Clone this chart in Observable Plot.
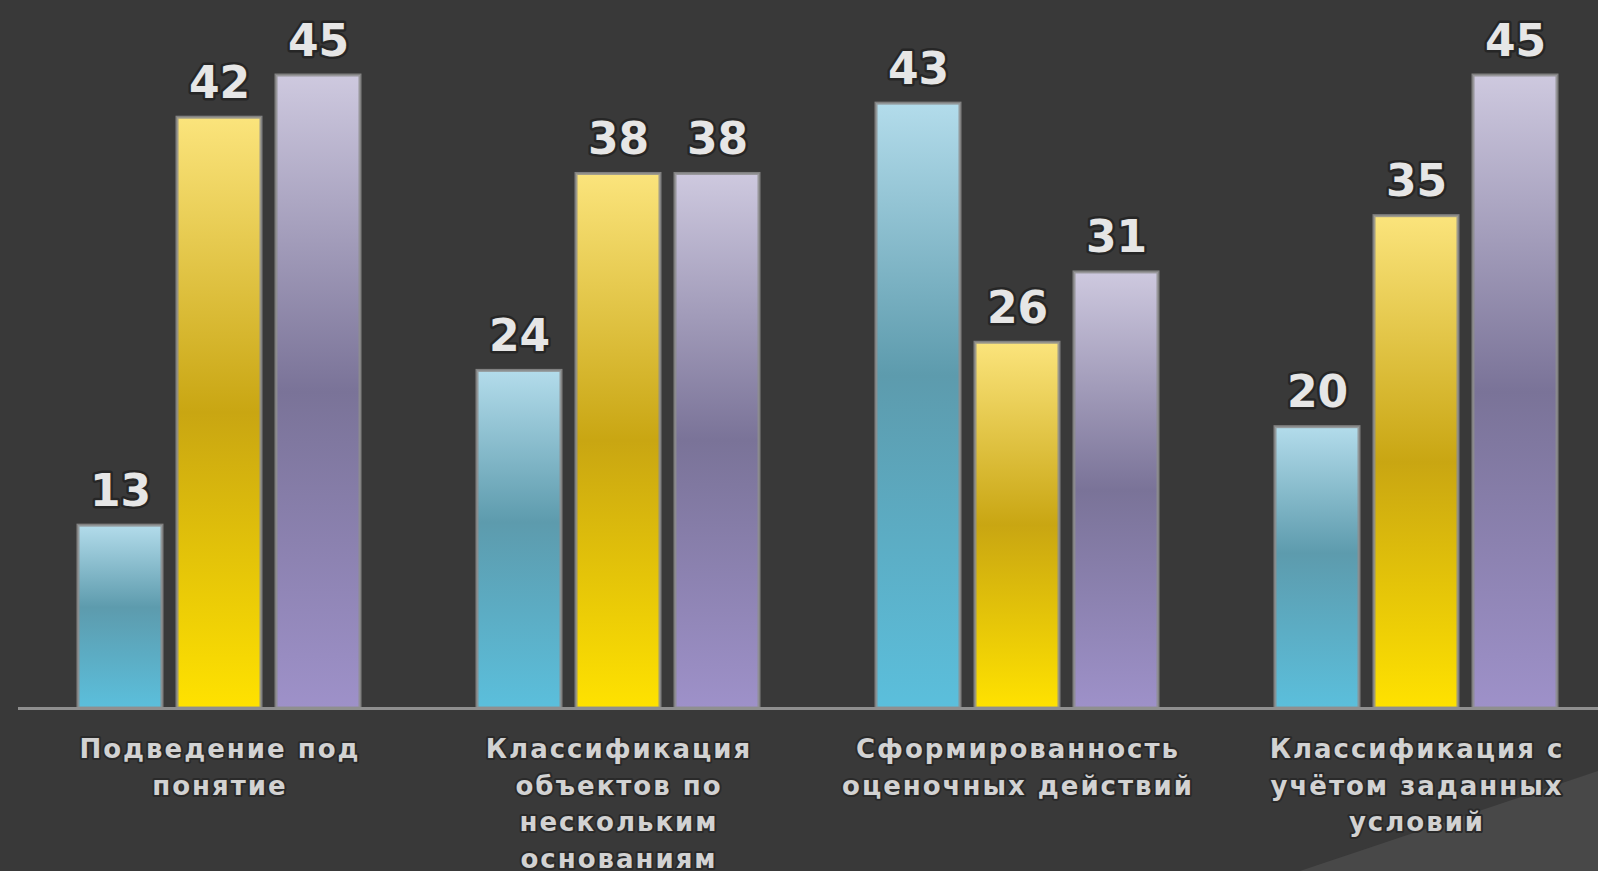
<!DOCTYPE html>
<html><head><meta charset="utf-8">
<script src="https://cdn.jsdelivr.net/npm/d3@7"></script>
<script src="https://cdn.jsdelivr.net/npm/@observablehq/plot@0.6"></script>
<style>
html,body{margin:0;padding:0;background:#393939;overflow:hidden;}
#wrap{position:relative;width:1598px;height:871px;}
#corner{position:absolute;left:0;top:0;width:1598px;height:871px;background:#484848;clip-path:polygon(1300px 871px,1598px 771px,1598px 871px);}
#chart{position:absolute;left:0;top:0;}
</style></head><body>
<div id="wrap"><div id="corner"></div><div id="chart"></div></div>
<script>
const categories = [
  "Подведение под\nпонятие",
  "Классификация\nобъектов по\nнескольким\nоснованиям",
  "Сформированность\nоценочных действий",
  "Классификация с\nучётом заданных\nусловий"
];
const seriesNames = ["Ряд 1", "Ряд 2", "Ряд 3"];
const series1 = [13, 24, 43, 20];
const series2 = [42, 38, 26, 35];
const series3 = [45, 38, 31, 45];
const gradientIds = ["gBlue", "gYellow", "gPurple"];

const allSeries = [series1, series2, series3];
const data = [];
categories.forEach((c, i) => {
  allSeries.forEach((s, j) => data.push({category: c, series: seriesNames[j], value: s[i]}));
});

const barMarks = seriesNames.map((name, j) =>
  Plot.barY(data.filter(d => d.series === name), {
    fx: "category", x: "series", y: "value",
    fill: `url(#${gradientIds[j]})`,
    stroke: "#8e8e8e", strokeWidth: 3, strokeOpacity: 0.85
  })
);

const chart = Plot.plot({
  width: 1598,
  height: 871,
  marginTop: 75,
  marginBottom: 163,
  marginLeft: 77,
  marginRight: 39,
  style: {background: "transparent", overflow: "visible"},
  fx: {domain: categories, paddingInner: 0.29, paddingOuter: 0, label: null},
  x: {domain: seriesNames, paddingInner: 0.15, paddingOuter: 0, axis: null},
  y: {domain: [0, 45], axis: null},
  marks: [
    ...barMarks,
    Plot.ruleY([0], {stroke: "#8f8f8f", strokeWidth: 3, insetLeft: -60, insetRight: -60}),
    Plot.text(data, {
      fx: "category", x: "series", y: "value",
      text: d => String(d.value),
      lineAnchor: "bottom", dy: -20,
      fontSize: 44, fontWeight: "bold", fontFamily: "DejaVu Sans",
      fill: "#e6e6e6", stroke: "#262626", strokeWidth: 5
    }),
    Plot.axisFx({
      anchor: "bottom", tickSize: 0, tickPadding: 24, label: null,
      fontSize: 26, fontWeight: "bold", fontFamily: "DejaVu Sans", lineHeight: 1.4,
      fill: "#d2d2d2", textStroke: "#2a2a2a", textStrokeWidth: 4
    })
  ]
});

const svg = d3.select(chart);
const defs = svg.insert("defs", ":first-child");
const grads = {
  gBlue: [["0%", "#b3dceb"], ["45%", "#5d9bad"], ["100%", "#5bbfdc"]],
  gYellow: [["0%", "#fbe47c"], ["50%", "#c9a612"], ["100%", "#ffe200"]],
  gPurple: [["0%", "#cec9df"], ["50%", "#7a7398"], ["100%", "#9e91c9"]]
};
for (const [id, stops] of Object.entries(grads)) {
  const g = defs.append("linearGradient").attr("id", id)
    .attr("x1", 0).attr("y1", 0).attr("x2", 0).attr("y2", 1);
  for (const [o, c] of stops) g.append("stop").attr("offset", o).attr("stop-color", c);
}
svg.selectAll('g[aria-label="fx-axis tick label"] text').style("letter-spacing", "2px");
document.getElementById("chart").appendChild(chart);
</script>
</body></html>
